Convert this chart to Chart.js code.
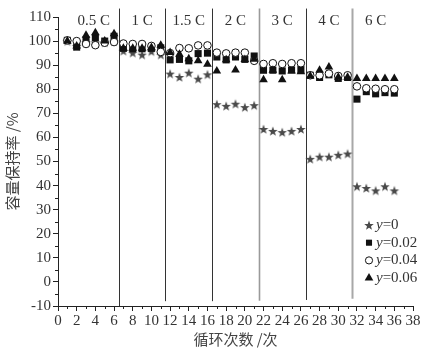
<!DOCTYPE html>
<html>
<head>
<meta charset="utf-8">
<script src="https://cdn.jsdelivr.net/npm/chart.js@4/dist/chart.umd.min.js"></script>
<style>
  html, body { margin: 0; padding: 0; background: #fff; }
  #wrap { width: 428px; height: 351px; }
</style>
</head>
<body>
<div id="wrap"><canvas id="c" width="428" height="351"></canvas></div>
<script>
// ---------- data ----------
const cycles = [1,2,3,4,5,6, 7,8,9,10,11, 12,13,14,15,16, 17,18,19,20,21, 22,23,24,25,26, 27,28,29,30,31, 32,33,34,35,36];

const rateLabels = ['0.5 C', '1 C', '1.5 C', '2 C', '3 C', '4 C', '6 C'];
const groupFirstCycle = [1, 7, 12, 17, 22, 27, 32];
const groupLastCycle  = [6, 11, 16, 21, 26, 31, 36];

const seriesNames = ['y=0', 'y=0.02', 'y=0.04', 'y=0.06'];

const y000 = [100, 98, 99.5, 99.5, 99.5, 100,
              96, 95.2, 94.4, 95.8, 94.4,
              86.5, 85.1, 86.9, 84.4, 86.2,
              73.8, 73.1, 74, 72.6, 73.4,
              63.5, 62.7, 62.2, 62.7, 63.5,
              51.1, 52, 52, 52.8, 53.3,
              39.7, 39, 38, 39.7, 38];

const y002 = [100.3, 97.5, 100.5, 101.5, 100, 102,
              97, 96.8, 96.8, 97, 97.2,
              92.2, 92.4, 91.8, 94.8, 95,
              93.4, 92.2, 93.4, 92.4, 93.8,
              87.9, 87.9, 87.6, 88, 88.2,
              85.8, 84.9, 86, 84.5, 84.9,
              75.9, 79, 78.1, 78.6, 78.4];

const y004 = [100.3, 100, 98.8, 98.3, 99.3, 99.6,
              99, 98.8, 98.8, 98, 95.5,
              95, 97.1, 97, 98.2, 98.2,
              95.2, 94.9, 95.2, 95.2, 91.8,
              90.5, 90.8, 90.5, 90.8, 90.8,
              85.8, 85.8, 86.5, 85.5, 85.8,
              81.2, 80.4, 80.2, 80, 80];

const y006 = [100, 98, 102.4, 103.5, 100, 103,
              97, 97, 97, 97.3, 98.3,
              95.3, 94.5, 92.7, 91.8, 90.4,
              87.6, 92.2, 88, 92.4, 92.5,
              83.9, 87.9, 83.9, 87.6, 87.3,
              85.5, 87.9, 89.2, 85, 85,
              84.5, 84.5, 84.5, 84.5, 84.5];

const xTickMin = 0, xTickMax = 38, xTickStep = 2;
const yTickMin = -10, yTickMax = 110, yTickStep = 10;

// ---------- helpers ----------
function toXY(vals) { return cycles.map((c, i) => ({ x: c, y: vals[i] })); }

function makeStar(r, color) {
  const s = Math.ceil(r * 2) + 2;
  const c = document.createElement('canvas');
  c.width = s; c.height = s;
  const g = c.getContext('2d');
  g.fillStyle = color;
  g.beginPath();
  for (let i = 0; i < 10; i++) {
    const rr = (i % 2) ? r * 0.42 : r;
    const a = -Math.PI / 2 + i * Math.PI / 5;
    g.lineTo(s / 2 + rr * Math.cos(a), s / 2 + 0.6 + rr * Math.sin(a));
  }
  g.closePath();
  g.fill();
  return c;
}
const starImg = makeStar(5, '#4a4a4a');

const SERIF = '"Liberation Serif", "DejaVu Serif", serif';
const CJK = '"Noto Sans CJK SC", sans-serif';
const TXT = '#333';
const AXIS = '#222';

const sepX = groupLastCycle.slice(0, -1).map((c, i) => (c + groupFirstCycle[i + 1]) / 2);
const sepColor = ['#333', '#333', '#333', '#9a9a9a', '#333', '#a8a8a8'];
const sepWidth = [1, 1, 1, 1.6, 1, 2];
const sepBottom = [-10, -8, -8, -7.8, -7.5, -7];

const datasets = [
  { label: seriesNames[0], data: toXY(y000), pointStyle: starImg, pointRadius: 5, order: 4 },
  { label: seriesNames[1], data: toXY(y002), pointStyle: 'rect', pointRadius: 5, backgroundColor: '#111', borderColor: '#111', pointBorderWidth: 0, order: 3 },
  { label: seriesNames[2], data: toXY(y004), pointStyle: 'circle', pointRadius: 3.8, backgroundColor: '#fff', borderColor: '#111', pointBorderWidth: 1, order: 2 },
  { label: seriesNames[3], data: toXY(y006), pointStyle: 'triangle', pointRadius: 5, backgroundColor: '#111', borderColor: '#111', pointBorderWidth: 0, order: 1 },
];
datasets.forEach(d => { d.showLine = false; d.pointHoverRadius = d.pointRadius; });

const annot = {
  id: 'annot',
  beforeDatasetsDraw(chart) {
    const { ctx, scales: { x, y } } = chart;
    ctx.save();
    sepX.forEach((v, i) => {
      const px = Math.round(x.getPixelForValue(v)) + 0.5;
      ctx.strokeStyle = sepColor[i];
      ctx.lineWidth = sepWidth[i];
      ctx.beginPath();
      ctx.moveTo(px, y.getPixelForValue(113.5));
      ctx.lineTo(px, y.getPixelForValue(sepBottom[i]));
      ctx.stroke();
    });
    ctx.font = '15px ' + SERIF;
    ctx.fillStyle = TXT;
    ctx.textAlign = 'center';
    ctx.textBaseline = 'middle';
    rateLabels.forEach((t, i) => {
      const cx = (groupFirstCycle[i] + groupLastCycle[i]) / 2;
      ctx.fillText(t, x.getPixelForValue(cx) + (i === 0 ? 3 : 0), y.getPixelForValue(108.3));
    });
    ctx.restore();
  },
  afterDraw(chart) {
    const { ctx, scales: { x, y }, chartArea: a } = chart;
    ctx.save();
    // minor ticks
    ctx.strokeStyle = AXIS;
    ctx.lineWidth = 1;
    ctx.beginPath();
    for (let v = xTickMin + 1; v < xTickMax; v += xTickStep) {
      const px = Math.round(x.getPixelForValue(v)) + 0.5;
      ctx.moveTo(px, a.bottom); ctx.lineTo(px, a.bottom + 3);
    }
    for (let v = yTickMin + 5; v < yTickMax; v += yTickStep) {
      const py = Math.round(y.getPixelForValue(v)) + 0.5;
      ctx.moveTo(a.left, py); ctx.lineTo(a.left - 3, py);
    }
    ctx.stroke();

    // legend
    const legendOrder = [0, 1, 2, 3]; // star, square, circle, triangle
    const legendRadius = [5, 4.3, 3.6, 5];
    const lx = a.right - 44, ly0 = a.bottom - 81, dy = 17.7;
    legendOrder.forEach((di, k) => {
      const ds = chart.data.datasets[di];
      const py = ly0 + k * dy;
      ctx.fillStyle = ds.backgroundColor || '#111';
      ctx.strokeStyle = ds.borderColor || '#111';
      ctx.lineWidth = ds.pointBorderWidth || 0;
      Chart.helpers.drawPoint(ctx, {
        pointStyle: ds.pointStyle, radius: legendRadius[k], rotation: 0,
        borderWidth: ds.pointBorderWidth || 0
      }, lx, py);
      const yy = ds.label.charAt(0), rest = ds.label.slice(1);
      ctx.fillStyle = TXT;
      ctx.textAlign = 'left';
      ctx.textBaseline = 'middle';
      ctx.font = 'italic 15px ' + SERIF;
      const tx = lx + 7;
      ctx.fillText(yy, tx, py);
      const w = ctx.measureText(yy).width;
      ctx.font = '15px ' + SERIF;
      ctx.fillText(rest, tx + w, py);
    });
    ctx.restore();
  }
};

new Chart(document.getElementById('c'), {
  type: 'scatter',
  data: { datasets },
  options: {
    responsive: false,
    animation: false,
    events: [],
    layout: { padding: { top: 17, right: 15, left: 0, bottom: 0 } },
    plugins: { legend: { display: false }, tooltip: { enabled: false } },
    scales: {
      x: {
        type: 'linear', min: xTickMin, max: xTickMax,
        afterFit(s) { s.height = 45; },
        ticks: { stepSize: xTickStep, autoSkip: false, maxRotation: 0, color: TXT, padding: 1,
                 font: { family: SERIF, size: 15 } },
        grid: { display: true, drawOnChartArea: false, drawTicks: true, tickLength: 5, tickColor: AXIS },
        border: { display: true, color: AXIS, width: 1 },
        title: { display: true, text: '循环次数 /次', color: '#444', font: { family: CJK, size: 15 }, padding: { top: 0, bottom: 3 } }
      },
      y: {
        type: 'linear', min: yTickMin, max: yTickMax,
        afterFit(s) { s.width = 58; },
        ticks: { stepSize: yTickStep, color: TXT, padding: 2, font: { family: SERIF, size: 15 } },
        grid: { display: true, drawOnChartArea: false, drawTicks: true, tickLength: 5, tickColor: AXIS },
        border: { display: true, color: AXIS, width: 1 },
        title: { display: true, text: '容量保持率 /%', color: '#444', font: { family: CJK, size: 15 }, padding: { top: 3, bottom: 0 } }
      }
    }
  },
  plugins: [annot]
});
</script>
</body>
</html>
